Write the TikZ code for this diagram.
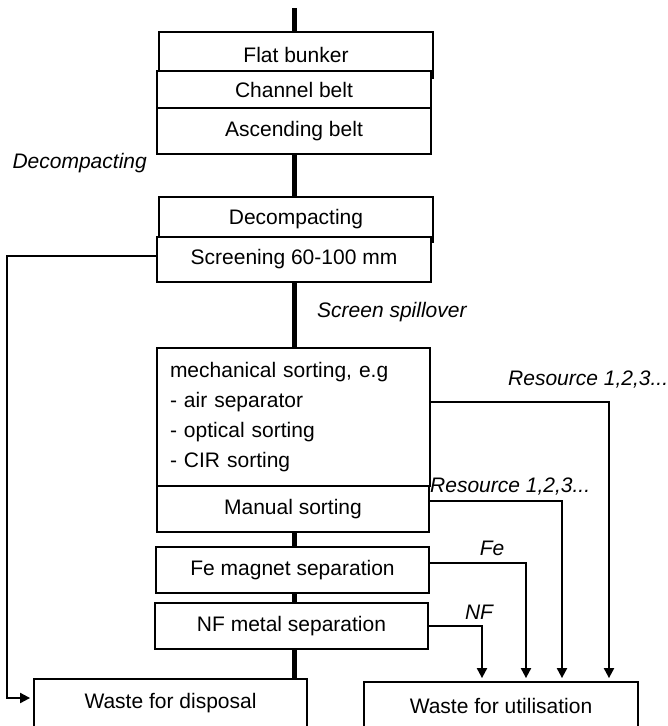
\documentclass[tikz,border=0pt]{standalone}
\usepackage{fontspec}
\setmainfont{Liberation Sans}
\usetikzlibrary{arrows.meta}
\begin{document}
\begin{tikzpicture}[x=1pt, y=-1pt,
    box/.style={draw, line width=1.8pt, fill=white, minimum width=274pt,
      minimum height=46pt, inner sep=0pt, font=\fontsize{21}{25}\selectfont},
    trunk/.style={line width=5pt},
    flow/.style={line width=2pt, shorten >=3pt, -{Triangle[width=10pt,length=10pt]}},
    lbl/.style={font=\fontsize{21}{25}\selectfont\itshape, inner sep=0pt}]
  \useasboundingbox (0,0) rectangle (668,726);
  % main line of the plant
  \coordinate (feed) at (294,8);
  \node[box] (bunker) at (296,55) {Flat bunker};
  \node[box, minimum height=37pt] (channel) at (294,89.5) {Channel belt};
  \node[box] (ascend) at (294,131) {Ascending belt};
  \node[box, minimum height=45pt] (decomp) at (296,219.5) {Decompacting};
  \node[box, minimum height=45pt] (screen) at (294,259.5) {Screening 60-100 mm};
  \node[box, minimum width=273pt, minimum height=138pt, text width=247pt,
    align=left, inner xsep=13pt, font=\fontsize{21}{30}\selectfont] (mech) at (293.5,417)
    {mechanical sorting, e.g\\- air separator\\- optical sorting\\- CIR sorting};
  \node[box, minimum width=272pt] (manual) at (293,509) {Manual sorting};
  \node[box, minimum width=273pt] (fe) at (292.5,570) {Fe magnet separation};
  \node[box, minimum width=273pt] (nf) at (291.5,626) {NF metal separation};
  \node[box, minimum width=273pt, minimum height=48pt] (disposal) at (170.5,703) {Waste for disposal};
  \node[box, minimum height=48pt] (util) at (501,706) {Waste for utilisation};
  % trunk
  \draw[trunk] (feed) -- (bunker.north -| feed);
  \draw[trunk] (ascend.south -| feed) -- (decomp.north -| feed);
  \draw[trunk] (screen.south -| feed) -- (mech.north -| feed);
  \draw[trunk] (manual.south -| feed) -- (fe.north -| feed);
  \draw[trunk] (fe.south -| feed) -- (nf.north -| feed);
  \draw[trunk] (nf.south -| feed) -- (disposal.north -| feed);
  % labels
  \node[lbl, anchor=east] (decomplbl) at (147,163) {Decompacting};
  \node[lbl, anchor=west] (spill) at (317,312) {Screen spillover};
  \node[lbl, anchor=west] (res1) at (508,380) {Resource 1,2,3...};
  \node[lbl, anchor=west] (res2) at (430,487) {Resource 1,2,3...};
  \node[lbl] (felbl) at (492,548) {Fe};
  \node[lbl] (nflbl) at (479,612) {NF};
  % side streams
  \draw[flow] ([yshift=4pt]screen.west) -- ++(-149,0) |- ([yshift=5pt]disposal.west);
  \draw[flow] ([yshift=15pt]mech.east) -| ([xshift=108pt]util.north);
  \draw[flow] ([yshift=8pt]manual.east) -| ([xshift=61pt]util.north);
  \draw[flow] ([yshift=7pt]fe.east) -| ([xshift=25pt]util.north);
  \draw[flow] (nf.east) -| ([xshift=-19pt]util.north);
\end{tikzpicture}
\end{document}
